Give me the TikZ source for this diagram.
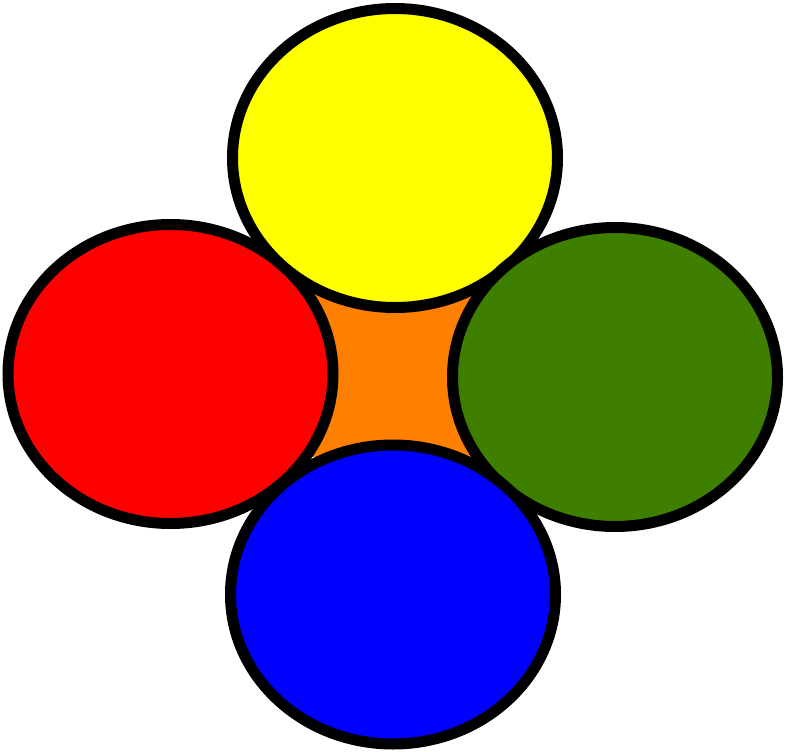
\documentclass[tikz,border=0pt]{standalone}
\usetikzlibrary{shapes.geometric}
\definecolor{cyellow}{HTML}{FFFF00}
\definecolor{cred}{HTML}{FF0000}
\definecolor{cgreen}{HTML}{3F7F00}
\definecolor{cblue}{HTML}{0000FF}
\definecolor{corange}{HTML}{FF7F00}
\tikzset{
  blob/.style={ellipse, draw=black, line width=11pt, inner sep=0pt,
    minimum width=325pt, minimum height=299pt},
}
\begin{document}
\begin{tikzpicture}[x=1pt,y=-1pt]
\useasboundingbox (0,0) rectangle (785,752);
\fill[corange] (313,295) rectangle (472,457);
\node[blob, fill=cred]    (red)    at (170.5,374) {};
\node[blob, fill=cyellow] (yellow) at (395,158) {};
\node[blob, fill=cgreen]  (green)  at (615,377) {};
\node[blob, fill=cblue]   (blue)   at (393,594.5) {};
\end{tikzpicture}
\end{document}
